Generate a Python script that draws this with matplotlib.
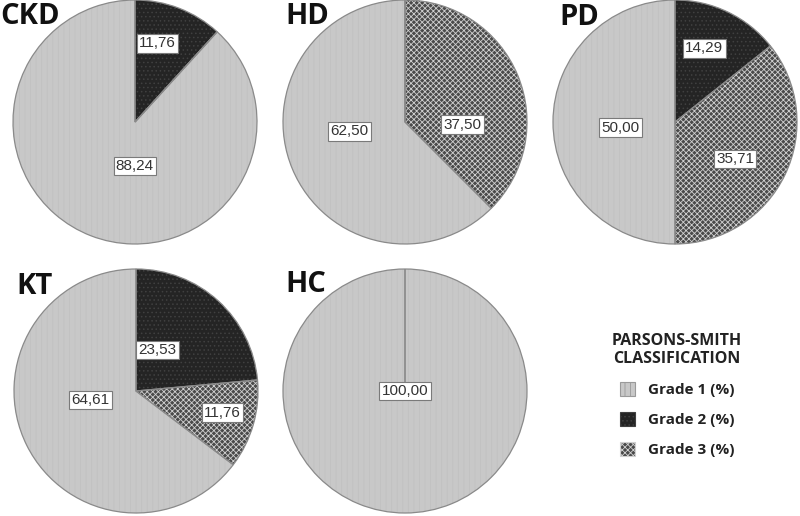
import numpy as np
import matplotlib.pyplot as plt
from matplotlib.patches import Patch

plt.rcParams['font.family'] = ['Liberation Sans', 'DejaVu Sans']
plt.rcParams['hatch.linewidth'] = 0.6

groups = ['CKD', 'HD', 'PD', 'KT', 'HC']
grade1 = [88.24, 62.50, 50.00, 64.61, 100.00]
grade2 = [11.76, 0.0, 14.29, 23.53, 0.0]
grade3 = [0.0, 37.50, 35.71, 11.76, 0.0]
legend_labels = ['Grade 1 (%)', 'Grade 2 (%)', 'Grade 3 (%)']

W, H = 800, 516
R = 122
centres = {'CKD': (135, 122), 'HD': (405, 122), 'PD': (675, 122),
           'KT': (136, 391), 'HC': (405, 391)}
title_pos = {'CKD': (0, 2), 'HD': (285, 2), 'PD': (559, 3), 'KT': (16, 272), 'HC': (285, 270)}
# wedge order clockwise from 12 o'clock: grade 2, grade 3, grade 1
# label placement per wedge: (radius fraction, angle shift from wedge middle)
lab_place = {'CKD': [(0.67, 5), (0, 0), (0.36, 21)],
             'HD': [(0, 0), (0.47, -25), (0.46, -13)],
             'PD': [(0.65, 4), (0.58, -6), (0.45, 6)],
             'KT': [(0.38, 15), (0.73, 2), (0.38, -15)],
             'HC': [(0, 0), (0, 0), (0.0, 0)]}

face = ['#242424', '#4a4a4a', '#c8c8c8']
hatches = ['....', 'xxxxxx', '|||']
hcol = ['#404040', '#d0d0d0', '#c1c1c1']

fig = plt.figure(figsize=(8, 5.16), dpi=100)

for i, g in enumerate(groups):
    cx, cy = centres[g]
    ax = fig.add_axes([(cx - R) / W, 1 - (cy + R) / H, 2 * R / W, 2 * R / H])
    vals = [grade2[i], grade3[i], grade1[i]]
    wedges, _ = ax.pie(vals, startangle=90, counterclock=False, colors=face,
                       wedgeprops=dict(lw=0))
    for w, h, hc in zip(wedges, hatches, hcol):
        w.set_hatch(h)
        w.set_edgecolor(hc)
    ax.pie(vals, startangle=90, counterclock=False, colors=['none'] * 3,
           wedgeprops=dict(lw=0.9, edgecolor='#8a8a8a'))
    for w, v, (rf, sh) in zip(wedges, vals, lab_place[g]):
        if v <= 0:
            continue
        a = np.deg2rad((w.theta1 + w.theta2) / 2 + sh)
        ax.text(rf * np.cos(a), rf * np.sin(a), f'{v:.2f}'.replace('.', ','),
                ha='center', va='center', fontsize=11, color='#333333',
                bbox=dict(boxstyle='square,pad=0.15', fc='white', ec='#7a7a7a', lw=0.8))
    ax.set_xlim(-1, 1)
    ax.set_ylim(-1, 1)
    ax.set_aspect('equal')
    ax.axis('off')
    for p in ax.patches:
        p.set_clip_on(False)
    tx, ty = title_pos[g]
    fig.text(tx / W, 1 - ty / H, g, ha='left', va='top', fontsize=21,
             fontweight='bold', family='Open Sans', color='#111111')

handles = [Patch(facecolor=face[2], hatch=hatches[2], edgecolor='#9a9a9a', lw=0.8),
           Patch(facecolor=face[0], hatch=hatches[0], edgecolor=hcol[0], lw=0.8),
           Patch(facecolor=face[1], hatch=hatches[1], edgecolor=hcol[1], lw=0.8)]
leg = fig.legend(handles, legend_labels, title='PARSONS-SMITH\nCLASSIFICATION',
                 loc='upper center', bbox_to_anchor=(677 / W, 1 - 319 / H), frameon=False,
                 prop=dict(family='Open Sans', weight='bold', size=11),
                 title_fontproperties=dict(family='Open Sans', weight='bold', size=11.5),
                 handlelength=1.0, handleheight=1.0, labelspacing=0.98, handletextpad=0.8)
for t in leg.get_texts():
    t.set_color('#222222')
leg.get_title().set_color('#222222')
leg.get_title().set_multialignment('center')

fig.savefig('out.png', dpi=100)
